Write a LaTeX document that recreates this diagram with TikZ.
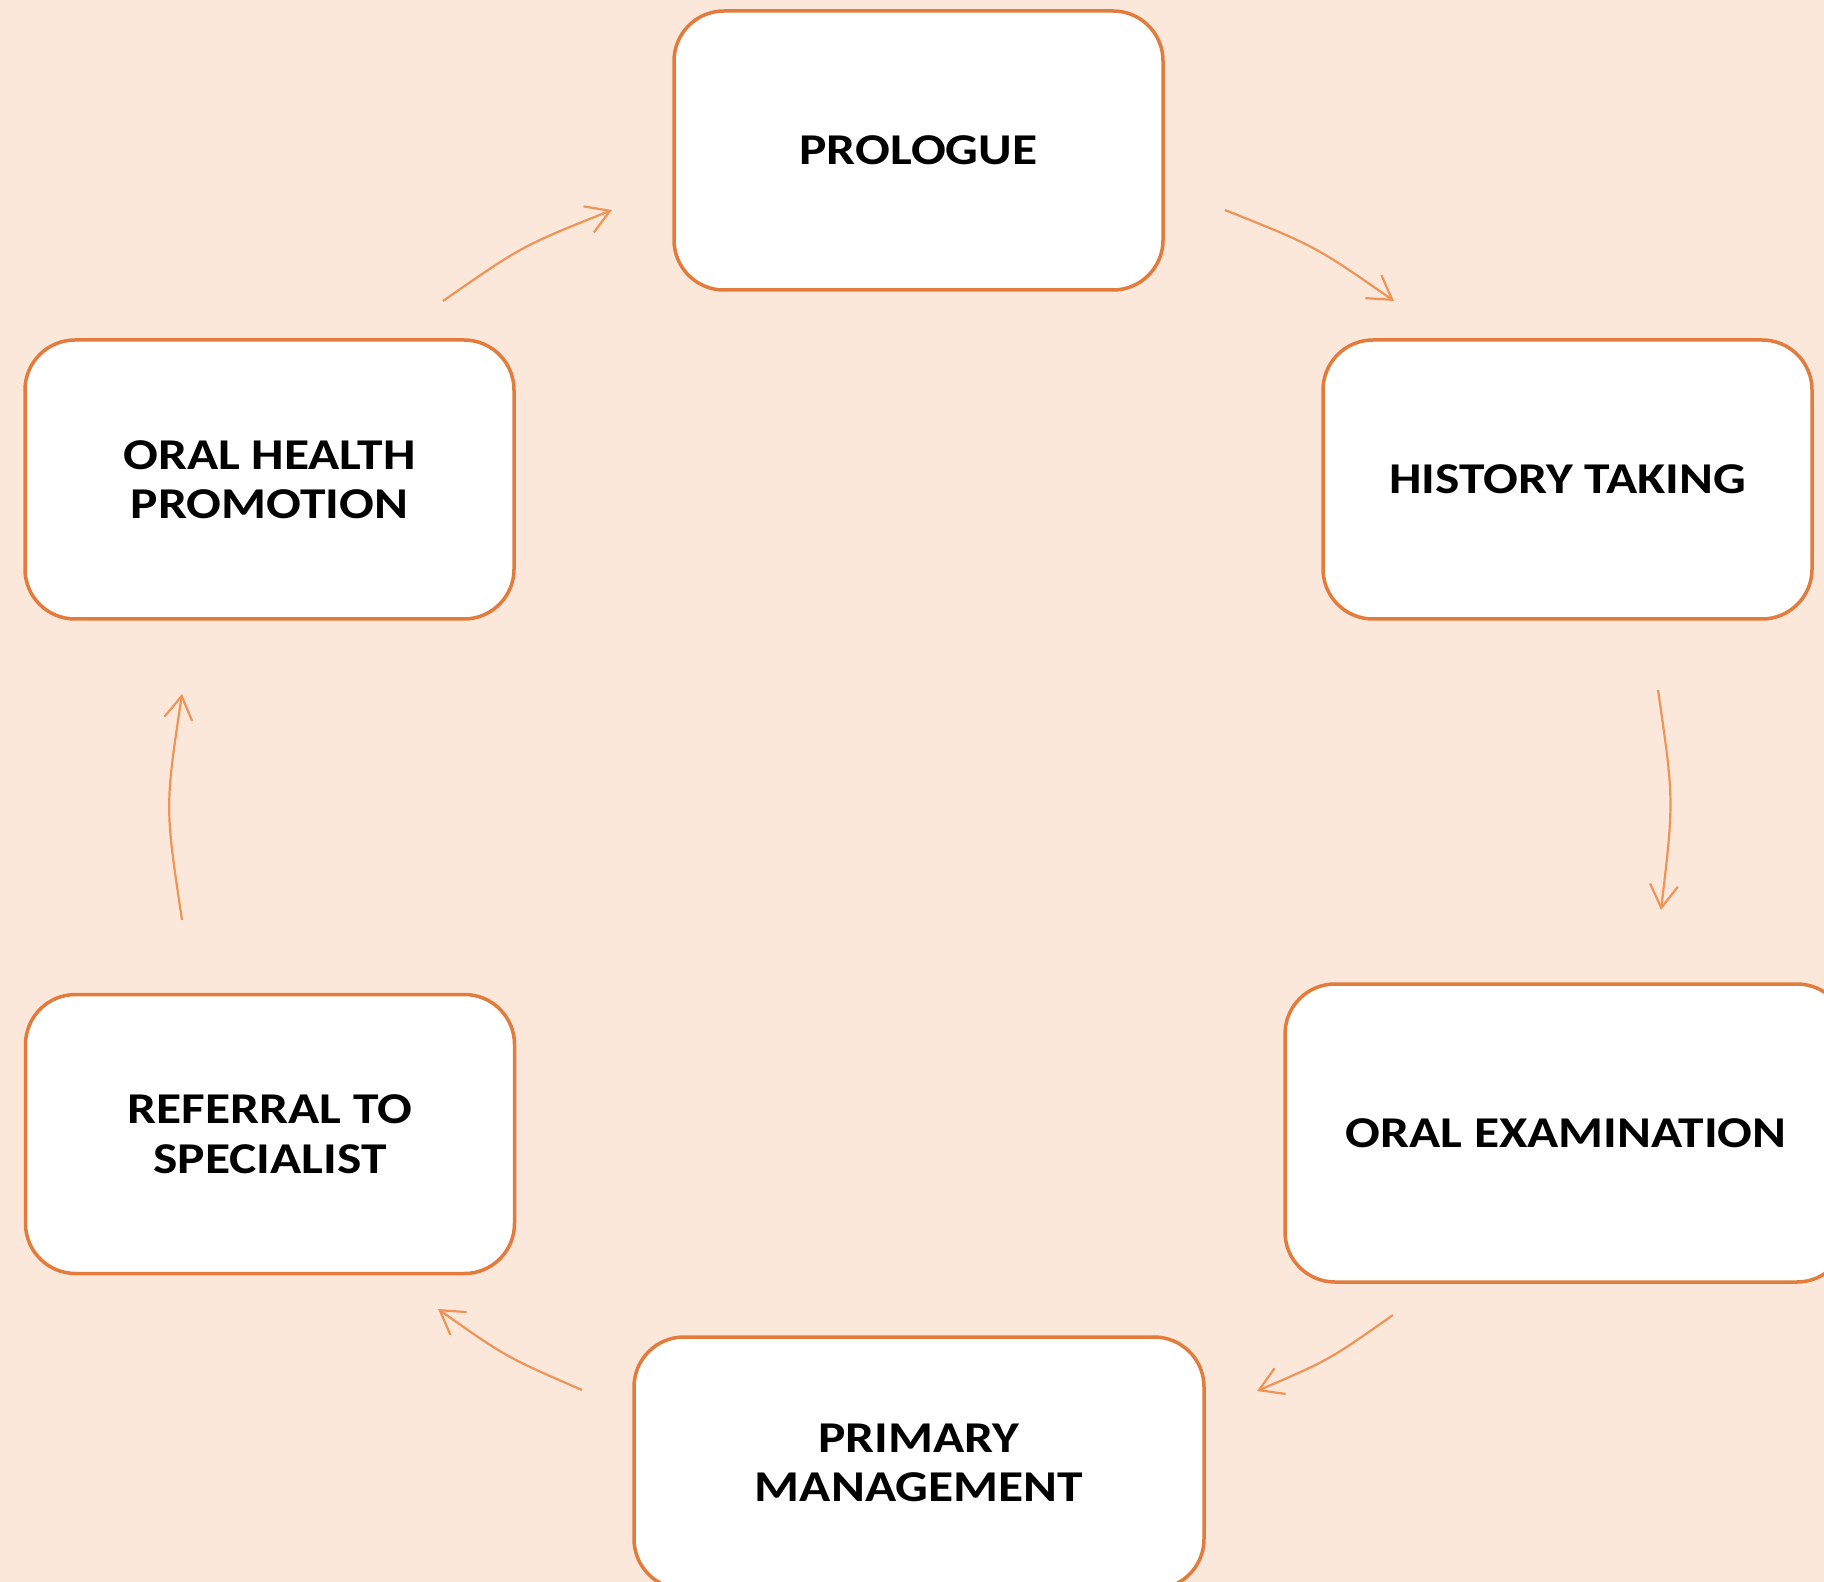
\documentclass[tikz,border=0pt]{standalone}
\usepackage{fontspec}
\setmainfont{Carlito}[FakeStretch=1.17]
\usetikzlibrary{arrows.meta}
\definecolor{bgc}{HTML}{FCE8DA}
\definecolor{boxline}{HTML}{E27B3B}
\definecolor{arrc}{HTML}{EF9357}
\begin{document}
\begin{tikzpicture}[x=0.5pt,y=-0.5pt,
  stagebox/.style={draw=boxline, line width=1.75pt, fill=white, rounded corners=25pt,
    align=center, inner sep=0pt, font=\bfseries\fontsize{22}{24.75}\selectfont},
  stdsize/.style={minimum width=244.5pt, minimum height=139.5pt},
  flow/.style={draw=arrc, line width=1.1pt,
    -{Straight Barb[length=11.5pt,width=14pt,line width=1.1pt]}}
]
\path[use as bounding box] (0,0) rectangle (1824,1582);
\clip (0,0) rectangle (1824,1582);
\fill[bgc] (0,0) rectangle (1824,1582);

\node[stagebox, stdsize] (pro) at (918.5,150.5) {PROLOGUE};
\node[stagebox, stdsize] (hist) at (1567.5,479.5) {HISTORY TAKING};
\node[stagebox, stdsize] (ohp) at (269.5,479.5) {ORAL HEALTH\\PROMOTION};
\node[stagebox, stdsize] (ref) at (270,1134) {REFERRAL TO\\SPECIALIST};
\node[stagebox, minimum width=281pt, minimum height=149pt] (exam) at (1566,1133) {ORAL EXAMINATION};
\node[stagebox, minimum width=285pt, minimum height=126pt] (prim) at (919,1463) {PRIMARY\\MANAGEMENT};

\coordinate (a1s) at (1225,210);  \coordinate (a1e) at (1394,301);
\coordinate (a2s) at (1658,690);  \coordinate (a2e) at (1661,910);
\coordinate (a3s) at (1393,1315); \coordinate (a3e) at (1257,1391);
\coordinate (a4s) at (582,1390);  \coordinate (a4e) at (438,1309);
\coordinate (a5s) at (182,920);   \coordinate (a5e) at (182,694);
\coordinate (a6s) at (443,301);   \coordinate (a6e) at (612,210);

\draw[flow] (a1s) .. controls (1315,246) .. (a1e);
\draw[flow] (a2s) .. controls (1674,800) .. (a2e);
\draw[flow] (a3s) .. controls (1329,1360) .. (a3e);
\draw[flow] (a4s) .. controls (506,1357) .. (a4e);
\draw[flow] (a5s) .. controls (165,807) .. (a5e);
\draw[flow] (a6s) .. controls (522,246) .. (a6e);
\end{tikzpicture}
\end{document}
